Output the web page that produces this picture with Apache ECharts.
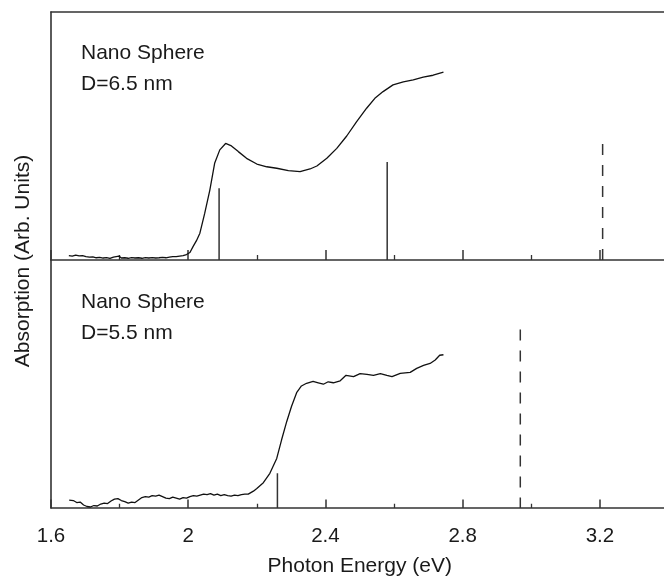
<!DOCTYPE html>
<html>
<head>
<meta charset="utf-8">
<script src="https://cdn.jsdelivr.net/npm/echarts@6/dist/echarts.min.js"></script>
<style>html,body{margin:0;padding:0;background:#fff}#c{width:664px;height:576px}</style>
</head>
<body>
<div id="c"></div>
<script>
// ---- Data ----
const xTicks = ['1.6', '2', '2.4', '2.8', '3.2'];

// Top panel: D = 6.5 nm
const energyTop = [1.652,1.662,1.672,1.682,1.692,1.702,1.712,1.722,1.732,1.742,1.752,1.762,1.772,1.782,1.798,1.805,1.815,1.825,1.835,1.845,1.855,1.865,1.875,1.885,1.895,1.905,1.915,1.925,1.935,1.945,1.955,1.965,1.975,1.985,1.995,2.005,
  2.014,2.024,2.034,2.048,2.063,2.077,2.092,2.109,2.126,2.146,2.170,2.200,2.229,2.258,2.292,2.326,2.355,2.375,2.404,2.433,2.462,2.491,2.520,2.544,2.568,2.597,2.627,2.656,2.685,2.714,2.744];
const absTop = [0.018,0.016,0.020,0.017,0.018,0.014,0.012,0.013,0.009,0.011,0.008,0.010,0.007,0.012,0.016,0.008,0.009,0.007,0.010,0.008,0.009,0.007,0.010,0.008,0.010,0.008,0.009,0.011,0.009,0.012,0.014,0.014,0.016,0.018,0.022,0.030,
  0.054,0.078,0.108,0.188,0.282,0.390,0.444,0.470,0.460,0.437,0.410,0.387,0.376,0.370,0.360,0.356,0.367,0.379,0.410,0.450,0.500,0.558,0.612,0.652,0.679,0.706,0.718,0.726,0.737,0.745,0.758];

// Bottom panel: D = 5.5 nm
const energyBottom = [1.653,1.665,1.675,1.685,1.695,1.705,1.715,1.725,1.735,1.745,1.755,1.765,1.775,1.785,1.795,1.805,1.815,1.825,1.835,1.845,1.855,1.865,1.875,1.885,1.895,1.905,1.915,1.925,1.935,1.945,1.955,1.965,1.975,1.985,1.995,2.005,2.015,2.025,2.035,2.045,2.055,2.065,2.075,2.085,2.095,2.105,2.115,2.125,2.135,2.145,2.155,2.165,2.175,
  2.190,2.200,2.219,2.238,2.258,2.272,2.287,2.301,2.316,2.330,2.345,2.364,2.379,2.394,2.408,2.423,2.443,2.460,2.482,2.501,2.521,2.540,2.560,2.579,2.594,2.618,2.647,2.666,2.686,2.705,2.720,2.733,2.744];
const absBottom = [0.032,0.030,0.022,0.024,0.012,0.006,0.004,0.010,0.008,0.016,0.020,0.018,0.028,0.036,0.038,0.030,0.026,0.020,0.024,0.022,0.032,0.042,0.046,0.044,0.050,0.048,0.052,0.046,0.040,0.038,0.044,0.040,0.036,0.042,0.040,0.046,0.050,0.048,0.052,0.056,0.054,0.058,0.052,0.056,0.050,0.054,0.050,0.048,0.052,0.050,0.054,0.056,0.056,
  0.068,0.079,0.102,0.140,0.200,0.274,0.348,0.409,0.465,0.492,0.503,0.511,0.505,0.499,0.509,0.505,0.513,0.535,0.530,0.542,0.539,0.535,0.542,0.535,0.530,0.543,0.547,0.563,0.575,0.583,0.597,0.616,0.618];

// Transition sticks
const solidTopE = [2.090, 2.580];
const solidTopH = [0.289, 0.395];
const dashedTopE = [3.208];
const dashedTopH = [0.468];
const solidBottomE = [2.260];
const solidBottomH = [0.140];
const dashedBottomE = [2.968];
const dashedBottomH = [0.720];

const labelsTop = ['Nano Sphere', 'D=6.5 nm'];
const labelsBottom = ['Nano Sphere', 'D=5.5 nm'];

// ---- Build ----
const FONT = '"Liberation Sans", Arial, Helvetica, sans-serif';
const AX = '#333';
const zip = (xs, ys) => xs.map((x, i) => [x, ys[i]]);

function xAxisFor(grid, showLabels, tickLen) {
  return {
    type: 'value', gridIndex: grid, min: 1.6, max: 3.4, interval: 0.4,
    axisLine: { show: true, onZero: false, lineStyle: { color: AX, width: 1.6 } },
    axisTick: { show: true, inside: true, length: tickLen, lineStyle: { color: AX, width: 1.5 } },
    minorTick: { show: true, splitNumber: 2, length: tickLen / 2, lineStyle: { color: AX, width: 1.3 } },
    splitLine: { show: false }, minorSplitLine: { show: false },
    axisLabel: {
      show: showLabels, margin: 18, color: '#1a1a1a', fontSize: 20.5, fontFamily: FONT,
      showMaxLabel: false,
      formatter: v => { const s = String(Math.round(v * 10) / 10); return xTicks.includes(s) ? s : ''; }
    },
    name: showLabels ? 'Photon Energy (eV)' : '',
    nameLocation: 'middle', nameGap: 48,
    nameTextStyle: { color: '#1a1a1a', fontSize: 21, fontFamily: FONT }
  };
}
function yAxisFor(grid) {
  return {
    type: 'value', gridIndex: grid, min: 0, max: 1,
    axisLine: { show: true, lineStyle: { color: AX, width: 1.6 } },
    axisTick: { show: false }, axisLabel: { show: false }, splitLine: { show: false }
  };
}
function curve(xi, yi, xs, ys) {
  return { type: 'line', xAxisIndex: xi, yAxisIndex: yi, data: zip(xs, ys), showSymbol: false, symbol: 'none',
    lineStyle: { color: '#111', width: 1.3 }, smooth: false, z: 3, silent: true };
}
function sticks(xi, yi, es, hs, dashed) {
  return es.map((e, i) => ({
    type: 'line', xAxisIndex: xi, yAxisIndex: yi, data: [[e, hs[i]], [e, 0]], showSymbol: false, symbol: 'none',
    lineStyle: { color: '#333', width: 1.5, type: dashed ? [11, 10] : 'solid' }, z: 2, silent: true
  }));
}

const series = [
  curve(0, 0, energyTop, absTop),
  curve(1, 1, energyBottom, absBottom),
  ...sticks(0, 0, solidTopE, solidTopH, false),
  ...sticks(0, 0, dashedTopE, dashedTopH, true),
  ...sticks(1, 1, solidBottomE, solidBottomH, false),
  ...sticks(1, 1, dashedBottomE, dashedBottomH, true)
];

const textStyle = (txt, x, y) => ({ type: 'text', x, y, style: { text: txt, fill: '#1a1a1a', font: '21px ' + FONT, textAlign: 'left', textVerticalAlign: 'middle' } });

const option = {
  animation: false,
  backgroundColor: '#fff',
  grid: [
    { left: 51, width: 617.5, top: 12, height: 248, containLabel: false, outerBoundsMode: 'none' },
    { left: 51, width: 617.5, top: 260, height: 248, containLabel: false, outerBoundsMode: 'none' }
  ],
  xAxis: [
    xAxisFor(0, false, 10),
    xAxisFor(1, true, 8.5),
    { type: 'value', gridIndex: 0, position: 'top', min: 1.6, max: 3.4,
      axisLine: { show: true, onZero: false, lineStyle: { color: AX, width: 1.6 } },
      axisTick: { show: false }, axisLabel: { show: false }, splitLine: { show: false } }
  ],
  yAxis: [yAxisFor(0), yAxisFor(1)],
  series,
  graphic: [
    textStyle(labelsTop[0], 81, 53.5),
    textStyle(labelsTop[1], 81, 84),
    textStyle(labelsBottom[0], 81, 302),
    textStyle(labelsBottom[1], 81, 333.5),
    { type: 'text', x: 23, y: 261, rotation: Math.PI / 2,
      style: { text: 'Absorption (Arb. Units)', fill: '#1a1a1a', font: '21px ' + FONT, textAlign: 'center', textVerticalAlign: 'middle' } }
  ]
};

const chart = echarts.init(document.getElementById('c'), null, { renderer: 'canvas' });
chart.setOption(option);
</script>
</body>
</html>
